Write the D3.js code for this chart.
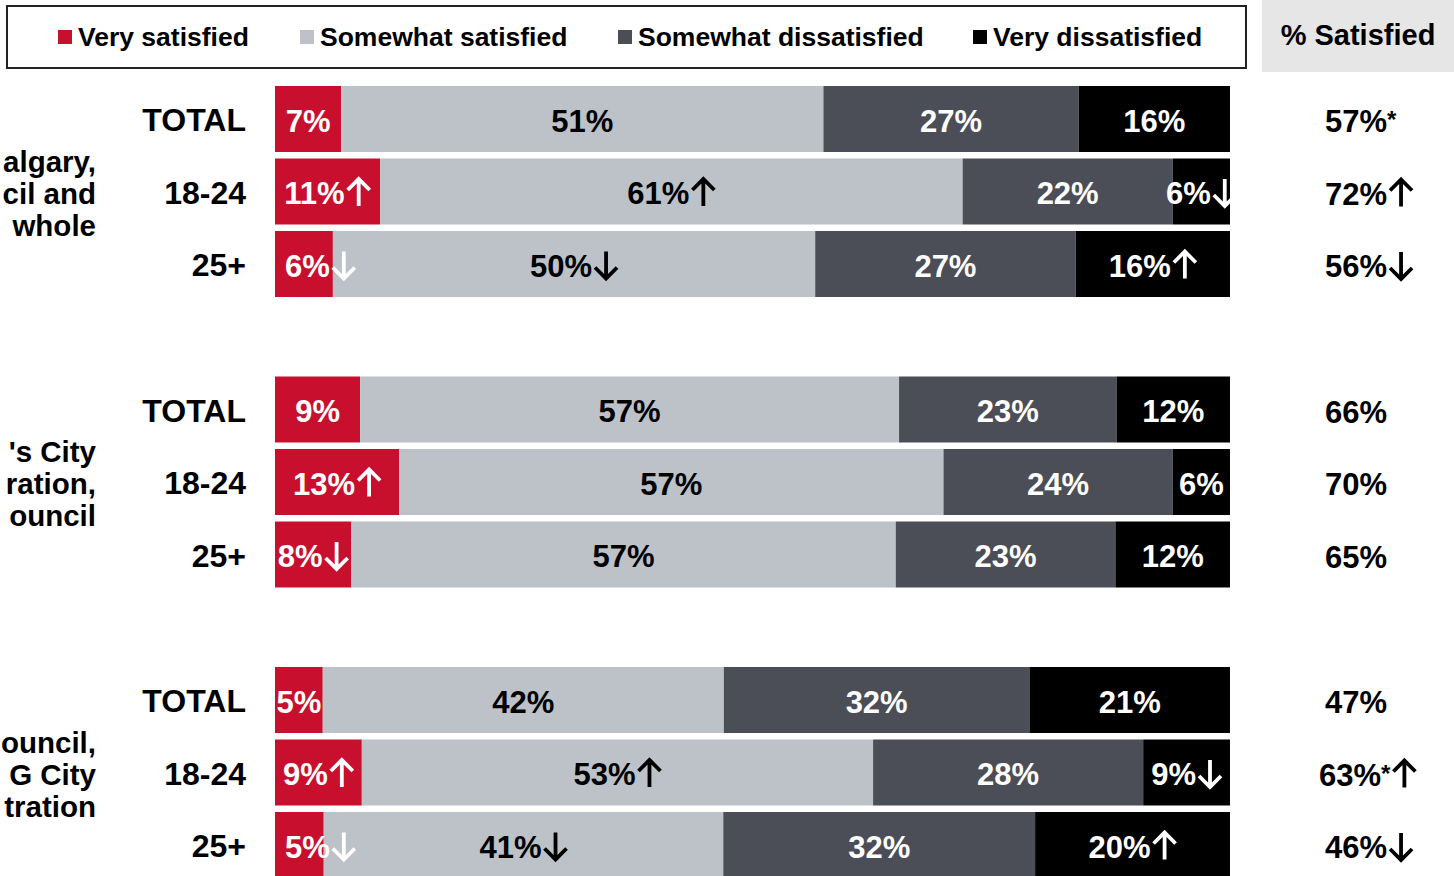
<!DOCTYPE html>
<html>
<head>
<meta charset="utf-8">
<script src="https://cdn.jsdelivr.net/npm/d3@7/dist/d3.min.js"></script>
<style>
  html, body { margin: 0; padding: 0; background: #fff; }
  svg { display: block; }
  text { font-family: "Liberation Sans", Arial, sans-serif; font-weight: bold; }
</style>
</head>
<body>
<svg id="chart" width="1454" height="876"></svg>
<script>
// ---------- DATA ----------
// group labels: only the portion visible in the (left-cropped) reference
const groupLines = [
  ["algary,", "cil and", "whole"],
  ["'s City", "ration,", "ouncil"],
  ["ouncil,", "G City", "tration"]
];
const rowLabels = ["TOTAL", "18-24", "25+"];
const seriesNames = ["Very satisfied", "Somewhat satisfied", "Somewhat dissatisfied", "Very dissatisfied"];
const seriesColors = ["#c8102e", "#bcc2c8", "#4b4e56", "#000000"];
const seriesTextColors = ["#ffffff", "#000000", "#ffffff", "#ffffff"];

// 9 rows: group1 (TOTAL, 18-24, 25+), group2 ..., group3 ...
const verySatisfied        = [7, 11, 6,   9, 13, 8,   5, 9, 5];
const somewhatSatisfied    = [51, 61, 50, 57, 57, 57, 42, 53, 41];
const somewhatDissatisfied = [27, 22, 27, 23, 24, 23, 32, 28, 32];
const veryDissatisfied     = [16, 6, 16,  12, 6, 12,  21, 9, 20];

// significance arrows per cell ("up", "down" or "")
const verySatisfiedSig        = ["", "up", "down", "", "up", "down", "", "up", "down"];
const somewhatSatisfiedSig    = ["", "up", "down", "", "", "", "", "up", "down"];
const somewhatDissatisfiedSig = ["", "", "", "", "", "", "", "", ""];
const veryDissatisfiedSig     = ["", "down", "up", "", "", "", "", "down", "up"];

const satisfiedTotal = [57, 72, 56, 66, 70, 65, 47, 63, 46];
const satisfiedNote  = ["*", "", "", "", "", "", "", "*", ""];
const satisfiedSig   = ["", "up", "down", "", "", "", "", "up", "down"];

const headerLabel = "% Satisfied";

// ---------- BUILD ----------
const seriesValues = [verySatisfied, somewhatSatisfied, somewhatDissatisfied, veryDissatisfied];
const seriesSig = [verySatisfiedSig, somewhatSatisfiedSig, somewhatDissatisfiedSig, veryDissatisfiedSig];
const keys = ["vs", "ss", "sd", "vd"];

const rows = verySatisfied.map((_, i) => {
  const r = { idx: i, group: Math.floor(i / 3), row: rowLabels[i % 3] };
  keys.forEach((k, j) => { r[k] = seriesValues[j][i]; });
  return r;
});

const stack = d3.stack().keys(keys).offset(d3.stackOffsetExpand);
const stacked = stack(rows);

const svg = d3.select("#chart");
const FONT = 31;
const ARROW_W = 24, ARROW_GAP = 2;

const x = d3.scaleLinear().domain([0, 1]).range([275, 1230]);
const groupY = d3.scaleLinear().domain([0, 1]).range([86, 86 + 290.5]);
const rowY = d3.scaleBand().domain(rowLabels).range([0, 72.5 * 3 - 6.5]).paddingInner(6.5 / 72.5).paddingOuter(0);
const yTop = d => groupY(d.group) + rowY(d.row);
const yMid = d => yTop(d) + rowY.bandwidth() / 2;

// draw a significance arrow (stem + open chevron head); x = left edge, base = text baseline
function drawArrow(g, dir, xLeft, base, color) {
  const cx = xLeft + ARROW_W / 2;
  const top = base - 25, bot = base + 2, h = 11;
  let p;
  if (dir === "up") {
    p = `M${cx},${bot}L${cx},${top + 1}M${cx - h},${top + h}L${cx},${top}L${cx + h},${top + h}`;
  } else {
    p = `M${cx},${top}L${cx},${bot - 1}M${cx - h},${bot - h}L${cx},${bot}L${cx + h},${bot - h}`;
  }
  g.append("path").attr("d", p).attr("fill", "none").attr("stroke", color)
    .attr("stroke-width", 3.8).attr("stroke-linejoin", "miter").attr("stroke-linecap", "butt");
}

// ---------- HEADER / LEGEND ----------
svg.append("rect").attr("x", 1262).attr("y", 0).attr("width", 192).attr("height", 72).attr("fill", "#e6e6e6");
svg.append("text").attr("x", 1358).attr("y", 45).attr("text-anchor", "middle")
  .attr("font-size", 29).attr("fill", "#000").text(headerLabel);

svg.append("rect").attr("x", 7).attr("y", 6).attr("width", 1239).attr("height", 62)
  .attr("fill", "#fff").attr("stroke", "#222").attr("stroke-width", 2);

const legendX = [58, 300, 618, 973];
const lg = svg.append("g").selectAll("g").data(seriesNames).join("g")
  .attr("transform", (d, i) => `translate(${legendX[i]},0)`);
lg.append("rect").attr("x", 0).attr("y", 30).attr("width", 14).attr("height", 14)
  .attr("fill", (d, i) => seriesColors[i]);
lg.append("text").attr("x", 20).attr("y", 46).attr("font-size", 26.5).attr("fill", "#000").text(d => d);

// ---------- BARS ----------
const layers = svg.append("g").selectAll("g").data(stacked).join("g")
  .attr("fill", (d, i) => seriesColors[i]);
layers.selectAll("rect").data(d => d).join("rect")
  .attr("x", d => x(d[0]))
  .attr("width", d => x(d[1]) - x(d[0]))
  .attr("y", d => yTop(d.data))
  .attr("height", rowY.bandwidth());

// ---------- BAR LABELS ----------
const labelG = svg.append("g");
stacked.forEach((layer, si) => {
  layer.forEach(d => {
    const x0 = x(d[0]), x1 = x(d[1]);
    const v = d.data[keys[si]];
    const sig = seriesSig[si][d.data.idx];
    const base = yMid(d.data) + 12.5;
    const t = labelG.append("text")
      .attr("y", base)
      .attr("font-size", FONT)
      .attr("fill", seriesTextColors[si])
      .text(v + "%");
    const tw = t.node().getComputedTextLength();
    const w = tw + (sig ? ARROW_GAP + ARROW_W : 0);
    let left = (x0 + x1) / 2 - w / 2;
    if (si === 0 && left < x0) left = x0 + 10;
    t.attr("x", left);
    if (sig) drawArrow(labelG, sig, left + tw + ARROW_GAP, base, seriesTextColors[si]);
  });
});

// ---------- ROW LABELS ----------
svg.append("g").selectAll("text").data(rows).join("text")
  .attr("x", 246).attr("y", d => yMid(d) + 12)
  .attr("text-anchor", "end").attr("font-size", 32).attr("fill", "#000")
  .text(d => d.row);

// ---------- GROUP LABELS ----------
groupLines.forEach((lines, gi) => {
  const mid = groupY(gi) + rowY(rowLabels[1]) + rowY.bandwidth() / 2;
  const t = svg.append("text").attr("text-anchor", "end").attr("font-size", 29.5).attr("fill", "#000");
  lines.forEach((ln, li) => {
    t.append("tspan").attr("x", 96).attr("y", mid + (li - 1) * 32 + 12).text(ln);
  });
});

// ---------- % SATISFIED COLUMN ----------
const satG = svg.append("g");
rows.forEach(d => {
  const base = yMid(d) + 13;
  const startX = satisfiedNote[d.idx] && satisfiedSig[d.idx] ? 1319 : 1325;
  const t = satG.append("text").attr("x", startX).attr("y", base)
    .attr("font-size", FONT).attr("fill", "#000");
  t.append("tspan").text(satisfiedTotal[d.idx] + "%");
  if (satisfiedNote[d.idx]) t.append("tspan").attr("font-size", 24).attr("dy", -4).text(satisfiedNote[d.idx]);
  if (satisfiedSig[d.idx]) {
    const tw = t.node().getComputedTextLength();
    drawArrow(satG, satisfiedSig[d.idx], startX + tw + ARROW_GAP, base, "#000");
  }
});
</script>
</body>
</html>
